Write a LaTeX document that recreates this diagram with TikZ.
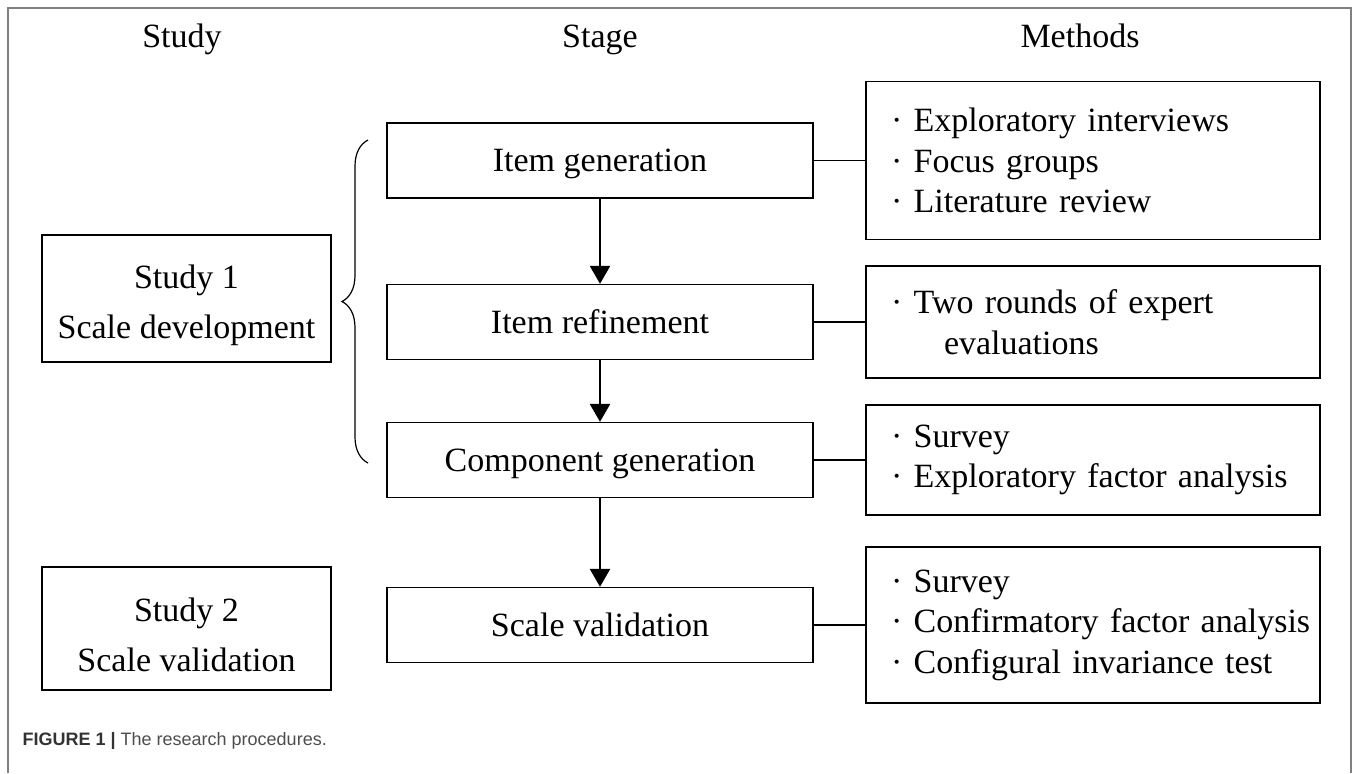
\documentclass[tikz,border=0pt]{standalone}
\usepackage{fontspec}
\setmainfont{Liberation Serif}
\newfontfamily\capfont{Liberation Sans}
\usetikzlibrary{arrows.meta, positioning, decorations.pathreplacing}
\definecolor{cframe}{HTML}{808080}
\definecolor{ccap}{HTML}{333333}
\definecolor{ctext}{HTML}{4D4D4D}
\tikzset{
  every picture/.style={x=0.5pt, y=-0.5pt, line width=0.65pt},
  box/.style={draw=black, align=center, inner sep=0pt, font=\fontsize{17}{25}\selectfont},
  stagebox/.style={box, minimum width=213pt, minimum height=37.5pt, text height=12pt, text depth=0.75pt},
  studybox/.style={box, minimum width=144.5pt, minimum height=#1, text height=43.6pt},
  methodbox/.style={draw=black, align=left, inner xsep=12.5pt, inner ysep=0pt, text width=202pt,
    minimum height=#1, font=\fontsize{17}{20.25}\selectfont},
  head/.style={font=\fontsize{17}{20}\selectfont, anchor=base},
  arrow/.style={-{Triangle[length=9pt, width=10pt]}, line width=1.2pt},
  link/.style={line width=0.6pt},
}

\begin{document}
\begin{tikzpicture}
  \useasboundingbox (0,0) rectangle (1357,773);
  % frame
  \draw[cframe, line width=1pt] (8,773) -- (8,8) -- (1351,8) -- (1351,773);
  % column heads
  \node[head] (hstudy) at (182,47) {Study};
  \node[head] (hstage) at (600,47) {Stage};
  \node[head] (hmeth) at (1080,47) {Methods};
  % studies
  \node[studybox=63.5pt] (s1) at (186.5,298.5) {Study 1\\Scale development};
  \node[studybox=61.5pt] (s2) at (186.5,628.5) {Study 2\\Scale validation};
  \coordinate (bt) at (368,140);
  \coordinate (bb) at (368,463);
  \draw[decorate, decoration={brace, amplitude=13pt}, line width=0.6pt] (bb) -- (bt);
  % stages
  \node[stagebox] (ig) at (600,160.5) {Item generation};
  \node[stagebox] (ir) at (600,322) {Item refinement};
  \node[stagebox] (cg) at (600,460) {Component generation};
  \node[stagebox] (sv) at (600,625) {Scale validation};
  \draw[arrow] (ig) -- (ir);
  \draw[arrow] (ir) -- (cg);
  \draw[arrow] (cg) -- (sv);
  % methods
  \node[methodbox=79pt] (m1) at (1093,160.5) {· Exploratory interviews\\· Focus groups\\· Literature review};
  \node[methodbox=56pt] (m2) at (1093,322) {· Two rounds of expert\\\hspace*{26.5pt}evaluations};
  \node[methodbox=55pt] (m3) at (1093,460) {· Survey\\· Exploratory factor analysis};
  \node[methodbox=78pt] (m4) at (1093,625) {· Survey\\\mbox{· Confirmatory factor analysis}\\· Configural invariance test};
  \draw[link] (ig) -- (m1);
  \draw[link] (ir) -- (m2);
  \draw[link] (cg) -- (m3);
  \draw[link] (sv) -- (m4);
  % caption
  \node[anchor=base west, inner sep=0pt, font=\capfont\fontsize{9}{11}\selectfont] (cap) at (22,745)
    {\textcolor{ccap}{\bfseries FIGURE 1 |} \textcolor{ctext}{The research procedures.}};
\end{tikzpicture}
\end{document}
